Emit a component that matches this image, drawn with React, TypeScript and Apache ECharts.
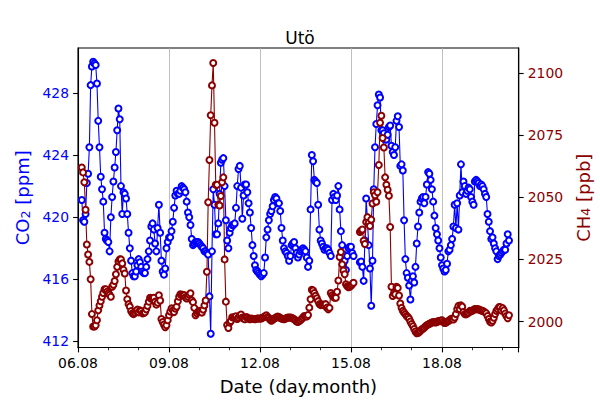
import * as echarts from 'echarts'
import { useEffect, useRef } from 'react'

// hourly measurements, starting 06.08 03:00
const startHour = 3
const stepHours = 1

// CO2 [ppm] (null = data gap)
const co2 = [
	421.1, 419.8, 419.7, 420.2, 422.2, 422.8, 424.5, 428.5, 429.7, 430.0,
	429.9, 429.8, 428.6, 426.2, 424.5, 422.6, 421.8, 421.0, 419.0, 418.6,
	418.5, 418.4, 417.8, 420.0, 421.3, 422.3, 423.2, 424.2, 425.6, 427.0,
	426.3, 422.0, 420.2, 421.6, 421.5, 421.2, 420.2, 419.0, 418.0, 417.2,
	416.4, 416.2, 416.2, 416.5, 416.9, 417.3, 417.1, 416.8, 416.5, 416.4,
	416.4, 416.8, 417.3, 417.8, 418.5, 419.4, 419.6, 419.2, 418.3, 417.8,
	419.3, 420.8, 419.0, 417.2, 416.5, 416.3, 416.7, 418.0, 418.4, 418.7,
	418.7, 419.1, 419.7, 420.6, 421.4, 421.7, 421.5, 421.5, 421.7, 422.0,
	421.9, 421.8, 421.6, 421.0, 420.3, 420.0, 419.5, 418.6, 418.2, 418.3,
	418.4, 418.4, 418.4, 418.3, 418.2, 418.1, 418.0, 417.8, 417.8, 417.7,
	417.6, 414.9, 412.5, 417.8, 421.8, 420.8, 418.9, 418.9, 419.6, 421.5,
	423.5, 423.7, 423.8, 422.0, 419.8, 418.5, 418.0, 419.0, 419.3, 419.5,
	419.5, 419.6, 420.6, 422.0, 423.1, 423.3, 421.9, 419.9, 421.4, 422.1,
	422.1, 421.6, 420.9, 420.3, 419.3, 418.2, 417.5, 416.9, 416.6, 416.5,
	416.4, 416.3, 416.2, 416.3, 416.4, 417.4, 418.7, 419.2, 419.8, 420.2,
	420.4, 420.7, 421.1, 421.3, 421.2, 420.9, 420.9, 420.4, 419.3, 418.5,
	418.0, 417.8, 417.7, 417.5, 417.2, 417.5, 418.2, 418.3, 418.4, 418.0,
	417.7, 417.4, 417.6, 417.8, 417.9, 418.0, 417.9, 417.8, 417.4, 416.8,
	417.2, 420.5, 424.0, 423.6, 422.4, 422.3, 422.2, 420.8, 419.2, 418.5,
	418.3, 418.1, 417.9, 418.0, 418.0, 417.9, 417.7, 417.5, 421.1, 421.5,
	421.3, 421.1, 421.4, 422.0, 420.5, 419.1, 418.2, 417.6, 417.2, 416.6,
	417.5, 418.0, 418.1, 418.1, 417.7, 417.5, null, null, null, null,
	417.1, 417.15, 416.8, 415.9, 418.5, 421.2, 419.8, 418.2, 416.7, 414.3,
	417.2, 421.8, 424.5, 426.0, 427.2, 427.9, 427.7, 425.6, 425.6, 425.4,
	425.0, 425.0, 425.3, 425.8, 425.9, 424.6, 424.2, 424.0, 424.5, 426.2,
	426.5, 425.8, 423.3, 423.4, 423.0, 419.8, 417.3, 416.4, 416.1, 415.6,
	414.7, 415.9, 416.2, 415.8, 416.8, 418.3, 419.4, 420.3, 421.0, 421.2,
	421.3, 420.9, 421.3, 422.1, 422.9, 422.8, 422.4, 421.8, 421.0, 420.1,
	419.3, 418.9, 418.5, 418.0, 417.4, 416.9, 416.7, 416.5, 416.6, 417.0,
	417.8, 417.9, 418.2, 418.6, 419.4, 420.8, 419.3, 420.9, 419.2, 421.4,
	423.4, 421.6, 422.3, 422.0, 421.5, 421.7, 421.9, 421.8, 421.3, 421.0,
	420.8, 422.3, 422.4, 422.3, 422.2, 422.0, 422.1, 422.0, 421.8, 421.5,
	421.3, 420.2, 419.7, 419.1, 418.6, 418.7, 418.3, 418.0, 417.8, 417.3,
	417.5, 417.6, 417.7, 417.8, 417.9, 417.9, 418.3, 418.9, 418.5,
]

// CH4 [ppb] (null = data gap)
const ch4 = [
	2062, 2060, 2056, 2045, 2031, 2027, 2024, 2017, 2003, 1998,
	1998, 1998.5, 2000.5, 2004.5, 2006.5, 2008.2, 2010, 2011.5, 2013, 2013,
	2012, 2011.3, 2010.8, 2010, 2014, 2014.8, 2016.3, 2019, 2022, 2024.2,
	2025, 2025, 2023.4, 2020.8, 2019.3, 2012.5, 2009, 2007, 2006, 2004.2,
	2003.3, 2003, 2003.5, 2004.2, 2004.8, 2003.7, 2004.5, 2004.2, 2003.3, 2003.4,
	2003.7, 2004.9, 2006.3, 2008, 2009.6, 2009.2, 2009.2, 2009.6, 2008, 2006.8,
	2007.6, 2010.6, 2008.5, 2001, 1999.8, 1998.8, 1997.7, 1998.5, 2000.5, 2002.5,
	2004, 2005.3, 2004.5, 2003.8, 2005.2, 2006, 2008.2, 2010, 2011, 2010.6,
	2010.8, 2010.6, 2009.8, 2009.3, 2010, 2010.8, 2011.4, 2008.6, 2007.8, 2005.5,
	2002.5, 2003.3, 2004, 2004.3, 2004, 2003.6, 2004.8, 2006.5, 2008.5, 2020,
	2048, 2065, 2083, 2095, 2104, 2080, 2055, 2055, 2047, 2046.7,
	2050.5, 2056, 2058, 2025, 2008, 1998.6, 1997.4, 1999.6, 2000.2, 2001.7,
	2001.6, 2001.6, 2002.1, 2001, 2001.6, 2002.3, 2002.8, 2001.6, 2001.2, 2000.9,
	2001.8, 2001.6, 2001.1, 2000.9, 2001.2, 2001.1, 2001, 2000.9, 2001.1, 2001.2,
	2001.2, 2001.2, 2001.2, 2001.5, 2001.8, 2002.1, 2002.5, 2001.8, 2001.4, 2000.8,
	2000.3, 2000.7, 2001.1, 2001.4, 2001.7, 2002, 2001.8, 2001.4, 2001.2, 2001,
	2000.9, 2001.1, 2001.4, 2001.6, 2001.6, 2001.6, 2001.5, 2001.2, 2000.9, 2000.5,
	2000, 1999.8, 2000.2, 2000.5, 2001, 2001.6, 2002.2, 2002.1, 2002, 2002.6,
	2005.6, 2009, 2012.8, 2012.5, 2011.5, 2010.4, 2009.4, 2008.2, 2007, 2006.6,
	2006.8, 2006.8, 2006.5, 2007, 2005.6, 2004.9, 2005.5, 2011.5, 2010.6, 2010,
	2009.6, 2009.6, 2012, 2016.5, 2026, 2028, 2023, 2020.5, 2019, 2015,
	2014.2, 2013.8, 2014, 2014.5, 2015, 2015.6, null, null, null, null,
	2036, 2036.6, 2037, 2032.5, 2031.2, 2040, 2042, 2039.8, 2038.4, 2041,
	2047.5, 2052, 2050.8, 2048.2, 2052, 2063, 2080, 2082.8, 2073.8, 2070,
	2058, 2055, 2053, 2050.6, 2038, 2014, 2010.3, 2011.4, 2011, 2014,
	2013.5, 2010.5, 2007.3, 2005.5, 2004.3, 2003.6, 2002.9, 2002.2, 2001.8, 2001.1,
	2000, 1999, 1998.1, 1997, 1996, 1995.3, 1995.4, 1995.8, 1996.3, 1996.9,
	1997.1, 1997.6, 1998.1, 1998.5, 1998.8, 1999.1, 1999.3, 1999.6, 1999.8, 1999.7,
	1999.6, 1999.8, 2000.2, 2000.1, 2000.4, 2000.5, 1999.9, 1999.4, 1999.5, 1999.9,
	2000.2, 2000.5, 2001, 2001.2, 2000.8, 2001.6, 2003, 2005, 2006.3, 2005,
	2006.5, 2006, 2003.8, 2003, 2002.9, 2003.2, 2003.6, 2004.3, 2004.1, 2004.3,
	2004.8, 2005, 2004.9, 2005, 2004.9, 2004.7, 2004.4, 2004.3, 2004.1, 2003.7,
	2003.3, 2002.2, 2001, 2000, 1999.6, 2000.3, 2001.5, 2003, 2004.3, 2005,
	2005.8, 2005.8, 2004.4, 2005.4, 2004.5, 2003.2, 2002.2, 2001.3, 2002.5,
]

const co2Ticks = [412, 416, 420, 424, 428]
const ch4Ticks = [2000, 2025, 2050, 2075, 2100]

const FONT = 'DejaVu Sans'
const CO2_COLOR = '#0000ff'
const CH4_COLOR = '#8b0000'

// x in days since 06.08 00:00
const toDay = (i: number) => (startHour + i * stepHours) / 24

const App = () => {
	const chartRef = useRef(null)

	useEffect(() => {
		const myChart = echarts.init(chartRef.current, null, { renderer: 'svg' })

		const tickLine = { show: true, lineStyle: { color: '#000', width: 1.1 } }

		const option = {
			animation: false,
			textStyle: { fontFamily: FONT },
			title: {
				text: 'Utö',
				left: 'center',
				top: 24,
				textStyle: { fontFamily: FONT, fontSize: 17, fontWeight: 'normal', color: '#000' },
			},
			grid: {
				left: 78,
				right: 77,
				top: 48,
				bottom: 52,
				show: true,
				borderColor: '#000',
				borderWidth: 1.1,
			},
			xAxis: {
				type: 'value',
				min: 0,
				max: 14.53,
				interval: 3,
				name: 'Date (day.month)',
				nameLocation: 'middle',
				nameGap: 29.5,
				nameTextStyle: { fontFamily: FONT, fontSize: 18, color: '#000' },
				axisLine: tickLine,
				axisTick: { show: true, length: 4.9, lineStyle: { color: '#000', width: 1.1 } },
				minorTick: { show: true, splitNumber: 3, length: 2.8, lineStyle: { color: '#000', width: 0.8 } },
				splitLine: { show: true, lineStyle: { color: '#b0b0b0', width: 0.8 } },
				axisLabel: {
					fontFamily: FONT,
					fontSize: 13.9,
					color: '#000',
					margin: 8,
					showMaxLabel: false,
					formatter: (v: number) => String(6 + Math.round(v)).padStart(2, '0') + '.08',
				},
			},
			yAxis: [
				{
					type: 'value',
					min: 411.61,
					max: 430.89,
					position: 'left',
					name: 'CO{sub|2} [ppm]',
					nameLocation: 'middle',
					nameRotate: 90,
					nameGap: 45,
					nameTextStyle: {
						fontFamily: FONT,
						fontSize: 18,
						color: CO2_COLOR,
						rich: { sub: { fontFamily: FONT, fontSize: 12.6, color: CO2_COLOR, verticalAlign: 'bottom' } },
					},
					axisLine: tickLine,
					axisTick: { show: true, length: 4.9, customValues: co2Ticks, lineStyle: { color: '#000', width: 1.1 } },
					axisLabel: {
						fontFamily: FONT,
						fontSize: 13.9,
						color: CO2_COLOR,
						margin: 9,
						customValues: co2Ticks,
						formatter: (v: number) => String(v),
					},
					splitLine: { show: false },
				},
				{
					type: 'value',
					min: 1989.56,
					max: 2110.04,
					position: 'right',
					name: 'CH{sub|4} [ppb]',
					nameLocation: 'middle',
					nameRotate: 90,
					nameGap: 50,
					nameTextStyle: {
						fontFamily: FONT,
						fontSize: 18,
						color: CH4_COLOR,
						rich: { sub: { fontFamily: FONT, fontSize: 12.6, color: CH4_COLOR, verticalAlign: 'bottom' } },
					},
					axisLine: tickLine,
					axisTick: { show: true, length: 4.9, customValues: ch4Ticks, lineStyle: { color: '#000', width: 1.1 } },
					axisLabel: {
						fontFamily: FONT,
						fontSize: 13.9,
						color: CH4_COLOR,
						margin: 9,
						customValues: ch4Ticks,
						formatter: (v: number) => String(v),
					},
					splitLine: { show: false },
				},
			],
			series: [
				{
					name: 'CO2',
					type: 'line',
					yAxisIndex: 0,
					data: co2.map((v, i) => [toDay(i), v]),
					symbol: 'emptyCircle',
					symbolSize: 6,
					showAllSymbol: true,
					lineStyle: { color: CO2_COLOR, width: 1.1 },
					itemStyle: { color: CO2_COLOR, borderColor: CO2_COLOR, borderWidth: 1.1 },
				},
				{
					name: 'CH4',
					type: 'line',
					yAxisIndex: 1,
					data: ch4.map((v, i) => [toDay(i), v]),
					symbol: 'emptyCircle',
					symbolSize: 6,
					showAllSymbol: true,
					lineStyle: { color: CH4_COLOR, width: 1.1 },
					itemStyle: { color: CH4_COLOR, borderColor: CH4_COLOR, borderWidth: 1.1 },
				},
			],
		}

		myChart.setOption(option)

		return () => {
			myChart.dispose()
		}
	}, [])

	return (
		<div
			ref={chartRef}
			style={{ position: 'fixed', left: 0, top: 0, width: '600px', height: '400px', background: '#fff' }}
		/>
	)
}

export default App
